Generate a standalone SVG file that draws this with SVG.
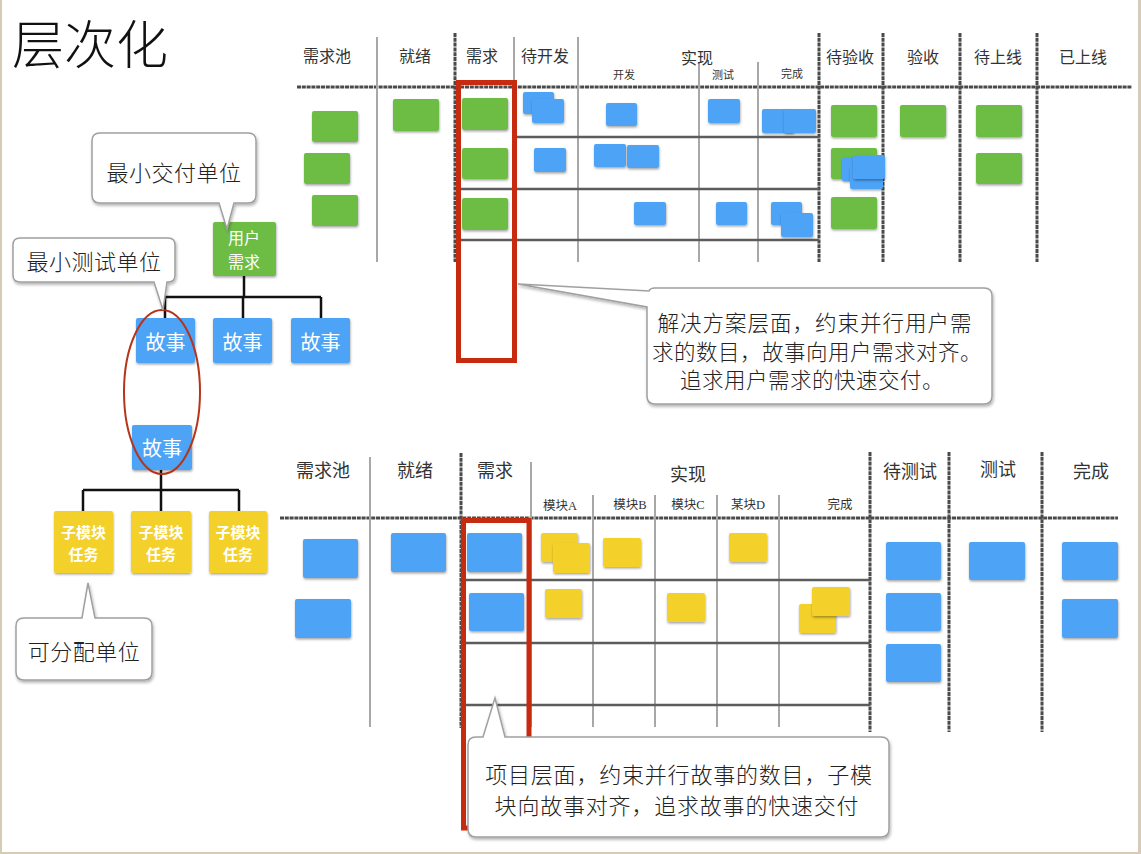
<svg xmlns="http://www.w3.org/2000/svg" width="1141" height="854" viewBox="0 0 1141 854">
<defs>
<filter id="sh" x="-20%" y="-20%" width="140%" height="150%"><feDropShadow dx="0.5" dy="1.5" stdDeviation="1" flood-color="#000" flood-opacity="0.35"/></filter>
<filter id="sh2" x="-10%" y="-10%" width="120%" height="130%"><feDropShadow dx="1" dy="2" stdDeviation="1.5" flood-color="#000" flood-opacity="0.3"/></filter>
<style>
.g{fill:#6dbd44}.b{fill:#4da3f6}.y{fill:#f3d02a}
.card rect,rect.card{filter:url(#sh)}
.thin{stroke:#a8a8a8;stroke-width:2;fill:none}
.thick{stroke:#4a4a4a;stroke-width:3;stroke-dasharray:4 0.8;fill:none}
.row{stroke:#5c5c5c;stroke-width:2.5;fill:none}
.hdr{font-family:"Noto Sans CJK SC","Noto Sans",sans-serif;font-size:16px;fill:#333;text-anchor:middle;dominant-baseline:central}
.hb{font-size:18px}
.sub{font-family:"Liberation Serif","Noto Sans CJK SC",serif;font-size:11px;fill:#333;text-anchor:middle;dominant-baseline:central}
.sub2{font-size:12.5px}
.hand{font-family:"Noto Sans CJK SC",sans-serif;fill:#222;text-anchor:middle;dominant-baseline:central;font-weight:300}
.callout{fill:#fff;stroke:#a0a0a0;stroke-width:1.5;filter:url(#sh2)}
.nt{font-family:"Noto Sans CJK SC",sans-serif;fill:#fff;text-anchor:middle;dominant-baseline:central}
.red{fill:none;stroke:#c62a0f;stroke-width:5}
.conn{stroke:#111;stroke-width:2.5;fill:none}
</style>
</defs>
<rect x="0" y="0" width="1141" height="854" fill="#d6cbb6"/>
<rect x="2" y="0" width="1136" height="852" fill="#fff"/>
<text x="12" y="64" font-family="Noto Sans CJK SC,sans-serif" font-size="52" font-weight="300" fill="#111">层次化</text>

<g id="board-top">
<line class="thick" x1="297" y1="87" x2="1132" y2="87"/>
<line class="thin" x1="377" y1="37" x2="377" y2="262"/>
<line class="thick" x1="455" y1="33" x2="455" y2="262"/>
<line class="thin" x1="514" y1="37" x2="514" y2="262"/>
<line class="thin" x1="578" y1="37" x2="578" y2="262"/>
<line class="thin" x1="699" y1="62" x2="699" y2="262"/>
<line class="thin" x1="758" y1="62" x2="758" y2="262"/>
<line class="thick" x1="819" y1="33" x2="819" y2="262"/>
<line class="thick" x1="883" y1="33" x2="883" y2="262"/>
<line class="thick" x1="960" y1="33" x2="960" y2="262"/>
<line class="thick" x1="1037" y1="33" x2="1037" y2="262"/>
<line class="row" x1="514" y1="137" x2="819" y2="137"/>
<line class="row" x1="461" y1="189" x2="819" y2="189"/>
<line class="row" x1="461" y1="240" x2="819" y2="240"/>
<text class="hdr" x="327" y="55">需求池</text>
<text class="hdr" x="415" y="55">就绪</text>
<text class="hdr" x="482" y="55">需求</text>
<text class="hdr" x="545" y="55">待开发</text>
<text class="hdr" x="697" y="57">实现</text>
<text class="sub" x="624" y="75">开发</text>
<text class="sub" x="723" y="75">测试</text>
<text class="sub" x="792" y="74">完成</text>
<text class="hdr" x="850" y="56">待验收</text>
<text class="hdr" x="923" y="56">验收</text>
<text class="hdr" x="998" y="56">待上线</text>
<text class="hdr" x="1083" y="56">已上线</text>
<g class="card">
<rect class="g" x="312" y="111" width="46" height="31" rx="2"/>
<rect class="g" x="304" y="153" width="46" height="31" rx="2"/>
<rect class="g" x="312" y="195" width="46" height="31" rx="2"/>
<rect class="g" x="393" y="99" width="46" height="32" rx="2"/>
<rect class="g" x="462" y="98" width="46" height="32" rx="2"/>
<rect class="g" x="462" y="148" width="46" height="31" rx="2"/>
<rect class="g" x="462" y="198" width="46" height="32" rx="2"/>
<rect class="g" x="831" y="105" width="46" height="32" rx="2"/>
<rect class="g" x="831" y="148" width="46" height="31" rx="2"/>
<rect class="g" x="831" y="197" width="46" height="32" rx="2"/>
<rect class="g" x="900" y="105" width="46" height="32" rx="2"/>
<rect class="g" x="976" y="105" width="46" height="32" rx="2"/>
<rect class="g" x="976" y="153" width="46" height="31" rx="2"/>
<rect class="b" x="523" y="92" width="31" height="22" rx="2"/>
<rect class="b" x="532" y="99" width="32" height="24" rx="2"/>
<rect class="b" x="534" y="148" width="32" height="24" rx="2"/>
<rect class="b" x="606" y="103" width="31" height="23" rx="2"/>
<rect class="b" x="708" y="99" width="32" height="24" rx="2"/>
<rect class="b" x="762" y="109" width="32" height="24" rx="2"/>
<rect class="b" x="784" y="109" width="32" height="24" rx="2"/>
<rect class="b" x="594" y="144" width="32" height="23" rx="2"/>
<rect class="b" x="627" y="145" width="32" height="23" rx="2"/>
<rect class="b" x="634" y="202" width="32" height="23" rx="2"/>
<rect class="b" x="716" y="202" width="31" height="23" rx="2"/>
<rect class="b" x="771" y="202" width="31" height="23" rx="2"/>
<rect class="b" x="781" y="213" width="32" height="24" rx="2"/>
<rect class="b" x="842" y="157" width="30" height="24" rx="2"/>
<rect class="b" x="850" y="166" width="33" height="23" rx="2"/>
<rect class="b" x="853" y="155" width="32" height="24" rx="2"/>
</g>
<rect class="red" x="458.5" y="82.5" width="56" height="278"/>
</g>

<g id="board-bottom">
<line class="thick" x1="280" y1="518" x2="1118" y2="518"/>
<line class="thin" x1="370" y1="457" x2="370" y2="727"/>
<line class="thick" x1="461" y1="453" x2="461" y2="728"/>
<line class="thin" x1="531" y1="462" x2="531" y2="727"/>
<line class="thin" x1="593" y1="495" x2="593" y2="727"/>
<line class="thin" x1="655" y1="495" x2="655" y2="727"/>
<line class="thin" x1="717" y1="495" x2="717" y2="727"/>
<line class="thin" x1="779" y1="495" x2="779" y2="727"/>
<line class="thick" x1="870" y1="452" x2="870" y2="732"/>
<line class="thick" x1="949" y1="452" x2="949" y2="732"/>
<line class="thick" x1="1042" y1="452" x2="1042" y2="732"/>
<line class="row" x1="464" y1="580" x2="870" y2="580"/>
<line class="row" x1="464" y1="643" x2="870" y2="643"/>
<line class="row" x1="464" y1="705" x2="870" y2="705"/>
<text class="hdr hb" x="323" y="469">需求池</text>
<text class="hdr hb" x="415" y="469">就绪</text>
<text class="hdr hb" x="495" y="469">需求</text>
<text class="hdr hb" x="688" y="473">实现</text>
<text class="sub sub2" x="560" y="506">模块A</text>
<text class="sub sub2" x="630" y="505">模块B</text>
<text class="sub sub2" x="688" y="505">模块C</text>
<text class="sub sub2" x="748" y="505">某块D</text>
<text class="sub sub2" x="840" y="505">完成</text>
<text class="hdr hb" x="910" y="470">待测试</text>
<text class="hdr hb" x="998" y="468">测试</text>
<text class="hdr hb" x="1091" y="470">完成</text>
<g class="card">
<rect class="b" x="303" y="539" width="55" height="39" rx="2"/>
<rect class="b" x="295" y="599" width="56" height="39" rx="2"/>
<rect class="b" x="391" y="533" width="55" height="39" rx="2"/>
<rect class="b" x="467" y="533" width="55" height="39" rx="2"/>
<rect class="b" x="469" y="593" width="55" height="38" rx="2"/>
<rect class="b" x="886" y="542" width="55" height="38" rx="2"/>
<rect class="b" x="886" y="593" width="55" height="38" rx="2"/>
<rect class="b" x="886" y="644" width="55" height="38" rx="2"/>
<rect class="b" x="969" y="542" width="56" height="38" rx="2"/>
<rect class="b" x="1062" y="542" width="56" height="38" rx="2"/>
<rect class="b" x="1062" y="599" width="56" height="39" rx="2"/>
<rect class="y" x="541" y="533" width="37" height="29" rx="2"/>
<rect class="y" x="553" y="543" width="37" height="30" rx="2"/>
<rect class="y" x="603" y="538" width="38" height="29" rx="2"/>
<rect class="y" x="729" y="533" width="38" height="29" rx="2"/>
<rect class="y" x="545" y="589" width="37" height="29" rx="2"/>
<rect class="y" x="667" y="593" width="38" height="29" rx="2"/>
<rect class="y" x="799" y="604" width="37" height="29" rx="2"/>
<rect class="y" x="812" y="587" width="38" height="29" rx="2"/>
</g>
<rect class="red" x="463.5" y="520.5" width="65.5" height="307.5"/>
</g>

<g id="connectors">
<path class="conn" d="M244,276 V297 M165,297 H321 M165,297 V318 M243,297 V318 M321,297 V318"/>
<path class="conn" d="M161,470 V490 M83,490 H239 M83,490 V511 M161,490 V511 M239,490 V511"/>
</g>

<g id="node-user-req">
<rect class="g card" x="213" y="222" width="63" height="54" rx="2"/>
<text class="nt" x="244" y="237" font-size="16">用户</text>
<text class="nt" x="244" y="261" font-size="16">需求</text>
</g>
<g id="node-story-1">
<rect class="b card" x="136" y="318" width="59" height="45" rx="2"/>
<text class="nt" x="165.5" y="341" font-size="20">故事</text>
</g>
<g id="node-story-2">
<rect class="b card" x="213" y="318" width="59" height="45" rx="2"/>
<text class="nt" x="242.5" y="341" font-size="20">故事</text>
</g>
<g id="node-story-3">
<rect class="b card" x="291" y="318" width="59" height="45" rx="2"/>
<text class="nt" x="320.5" y="341" font-size="20">故事</text>
</g>
<g id="node-story">
<rect class="b card" x="132" y="425" width="60" height="45" rx="2"/>
<text class="nt" x="162" y="447" font-size="20">故事</text>
</g>
<g id="node-task-1">
<rect class="y card" x="54" y="511" width="59" height="62" rx="2"/>
<text class="nt" x="83.5" y="531" font-size="15" font-weight="bold">子模块</text>
<text class="nt" x="83.5" y="553" font-size="15" font-weight="bold">任务</text>
</g>
<g id="node-task-2">
<rect class="y card" x="131" y="511" width="60" height="62" rx="2"/>
<text class="nt" x="161" y="531" font-size="15" font-weight="bold">子模块</text>
<text class="nt" x="161" y="553" font-size="15" font-weight="bold">任务</text>
</g>
<g id="node-task-3">
<rect class="y card" x="209" y="511" width="58" height="62" rx="2"/>
<text class="nt" x="238" y="531" font-size="15" font-weight="bold">子模块</text>
<text class="nt" x="238" y="553" font-size="15" font-weight="bold">任务</text>
</g>
<ellipse id="scope-ring" cx="162" cy="392" rx="38" ry="82" fill="none" stroke="#b5351c" stroke-width="2"/>

<g id="callout-delivery">
<path class="callout" d="M100,133 H248 Q256,133 256,141 V195 Q256,203 248,203 H234 L227,229 L219,203 H100 Q92,203 92,195 V141 Q92,133 100,133 Z"/>
<text class="hand" x="174" y="171" font-size="22" letter-spacing="0.5">最小交付单位</text>
</g>
<g id="callout-test">
<path class="callout" d="M20,238 H168 Q175,238 175,245 V275 Q175,282 168,282 H167 L163,310 L154,282 H20 Q13,282 13,275 V245 Q13,238 20,238 Z"/>
<text class="hand" x="94" y="260" font-size="22" letter-spacing="0.5">最小测试单位</text>
</g>
<g id="callout-assign">
<path class="callout" d="M24,618 H82 L88,583 L95,618 H144 Q152,618 152,626 V672 Q152,680 144,680 H24 Q16,680 16,672 V626 Q16,618 24,618 Z"/>
<text class="hand" x="84" y="650" font-size="22" letter-spacing="0.5">可分配单位</text>
</g>
<g id="callout-solution">
<path class="callout" d="M655,288 H984 Q992,288 992,296 V396 Q992,404 984,404 H655 Q647,404 647,396 V307 L518,284 L649,291 Q650,288 655,288 Z"/>
<text class="hand" x="815" y="321" font-size="21.5" letter-spacing="1">解决方案层面，约束并行用户需</text>
<text class="hand" x="817" y="350" font-size="21.5" letter-spacing="0.5">求的数目，故事向用户需求对齐。</text>
<text class="hand" x="812" y="378" font-size="21.5" letter-spacing="0.5">追求用户需求的快速交付。</text>
</g>
<g id="callout-project">
<path class="callout" d="M476,737 H483 L495,698 L505,737 H881 Q889,737 889,745 V829 Q889,837 881,837 H476 Q468,837 468,829 V745 Q468,737 476,737 Z"/>
<text class="hand" x="679" y="773" font-size="22" letter-spacing="0.8">项目层面，约束并行故事的数目，子模</text>
<text class="hand" x="677" y="804" font-size="22" letter-spacing="0.8">块向故事对齐，追求故事的快速交付</text>
</g>
</svg>
